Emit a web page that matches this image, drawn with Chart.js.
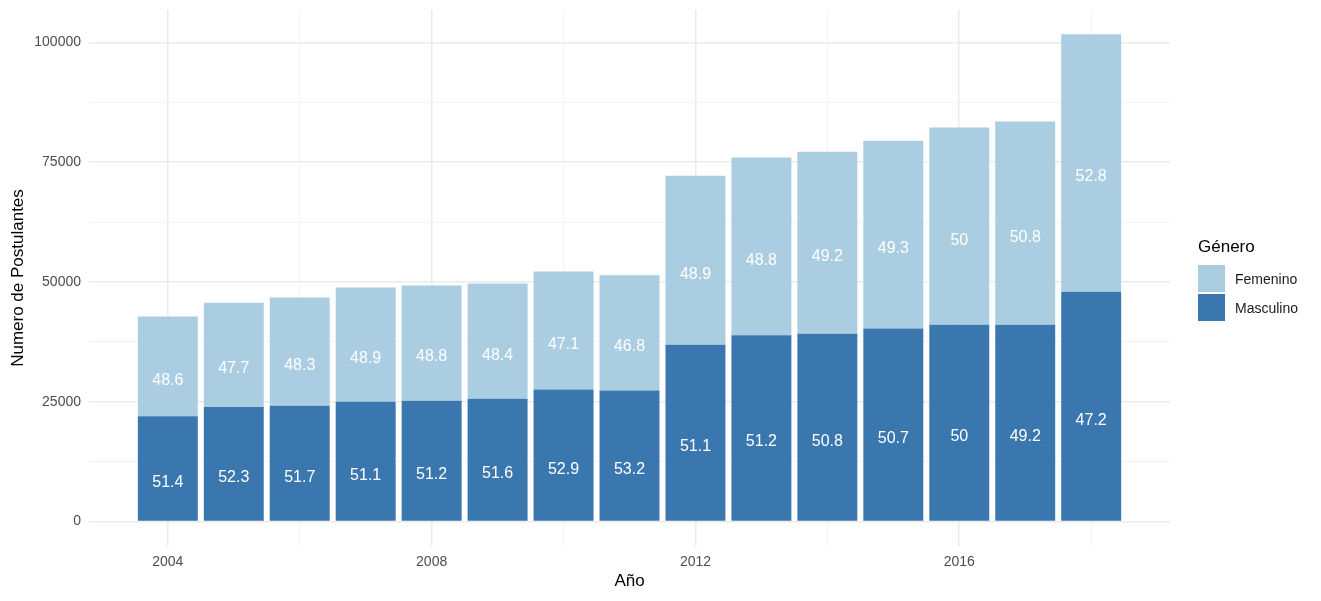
<!DOCTYPE html>
<html>
<head>
<meta charset="utf-8">
<script src="https://cdn.jsdelivr.net/npm/chart.js@4.4.1/dist/chart.umd.min.js"></script>
<style>
  body { margin: 0; background: #fff; font-family: "Liberation Sans", Arial, sans-serif; }
  #wrap { position: relative; width: 1321px; height: 601px; }
  #leyenda { position: absolute; left: 1198px; top: 234px; }
  #leyenda .titulo { font-size: 17px; color: #000; height: 26px; line-height: 26px; margin-bottom: 4px; }
  #leyenda .fila { display: flex; align-items: center; height: 29px; }
  #leyenda .caja { width: 27px; height: 27px; margin-right: 10px; }
  #leyenda .txt { font-size: 14px; color: #1a1a1a; }
</style>
</head>
<body>
<div id="wrap">
  <canvas id="grafico" width="1321" height="601"></canvas>
  <div id="leyenda"></div>
</div>
<script>
// datos
const anios = [2004, 2005, 2006, 2007, 2008, 2009, 2010, 2011, 2012, 2013, 2014, 2015, 2016, 2017, 2018];
const masculino = [22000, 23900, 24200, 25000, 25250, 25650, 27600, 27350, 36900, 38900, 39200, 40300, 41100, 41100, 48000];
const femenino = [20800, 21800, 22600, 23850, 24050, 24050, 24600, 24050, 35300, 37100, 38000, 39200, 41150, 42400, 53700];
const pctMasculino = ['51.4', '52.3', '51.7', '51.1', '51.2', '51.6', '52.9', '53.2', '51.1', '51.2', '50.8', '50.7', '50', '49.2', '47.2'];
const pctFemenino = ['48.6', '47.7', '48.3', '48.9', '48.8', '48.4', '47.1', '46.8', '48.9', '48.8', '49.2', '49.3', '50', '50.8', '52.8'];
const ticksX = [2004, 2006, 2008, 2010, 2012, 2014, 2016, 2018];
const ticksY = [0, 12500, 25000, 37500, 50000, 62500, 75000, 87500, 100000];

const colorMasc = '#3a77af';
const colorFem = '#abcde1';
const fuente = '"Liberation Sans", Arial, sans-serif';

// etiquetas de porcentaje dentro de las barras
const etiquetas = {
    id: 'etiquetas',
    afterDatasetsDraw(chart) {
        const ctx = chart.ctx;
        const textos = [pctMasculino, pctFemenino];
        ctx.save();
        ctx.font = '16px ' + fuente;
        ctx.fillStyle = '#ffffff';
        ctx.textAlign = 'center';
        ctx.textBaseline = 'middle';
        chart.data.datasets.forEach((ds, d) => {
            chart.getDatasetMeta(d).data.forEach((barra, i) => {
                let medio = (barra.y + barra.base) / 2 + 14;
                ctx.fillText(textos[d][i], barra.x, medio);
            });
        });
        ctx.restore();
    }
};

const esMayorX = v => (v - 2004) % 4 === 0;
const esMayorY = v => v % 25000 === 0;

new Chart(document.getElementById('grafico'), {
    type: 'bar',
    data: {
        labels: anios,
        datasets: [
            { label: 'Masculino', data: masculino, backgroundColor: colorMasc },
            { label: 'Femenino', data: femenino, backgroundColor: colorFem }
        ]
    },
    options: {
        responsive: false,
        animation: false,
        categoryPercentage: 1,
        barPercentage: 0.909,
        layout: { padding: { left: 0, top: 10, right: 151, bottom: 0 } },
        plugins: { legend: { display: false }, tooltip: { enabled: false } },
        scales: {
            x: {
                type: 'linear',
                stacked: true,
                offset: false,
                min: 2002.805,
                max: 2019.195,
                afterBuildTicks: s => { s.ticks = ticksX.map(v => ({ value: v })); },
                afterFit: s => { s.height = 55; s.paddingLeft = 0; s.paddingRight = 0; },
                border: { display: false },
                grid: {
                    offset: false,
                    drawTicks: false,
                    color: c => esMayorX(c.tick.value) ? '#ebebeb' : '#f3f3f3',
                    lineWidth: c => esMayorX(c.tick.value) ? 1.6 : 1
                },
                ticks: {
                    autoSkip: false,
                    maxRotation: 0,
                    padding: 8,
                    color: '#4d4d4d',
                    font: { family: fuente, size: 14 },
                    callback: v => esMayorX(v) ? String(v) : ''
                },
                title: {
                    display: true,
                    text: 'Año',
                    color: '#000',
                    font: { family: fuente, size: 17 },
                    padding: { top: 0, bottom: 9 }
                }
            },
            y: {
                stacked: true,
                min: -5085,
                max: 106785,
                afterBuildTicks: s => { s.ticks = ticksY.map(v => ({ value: v })); },
                afterFit: s => { s.width = 89; s.paddingTop = 0; s.paddingBottom = 0; },
                border: { display: false },
                grid: {
                    drawTicks: false,
                    color: c => esMayorY(c.tick.value) ? '#ebebeb' : '#f3f3f3',
                    lineWidth: c => esMayorY(c.tick.value) ? 1.6 : 1
                },
                ticks: {
                    padding: 8,
                    color: '#4d4d4d',
                    font: { family: fuente, size: 14 },
                    callback: v => esMayorY(v) ? String(v) : ''
                },
                title: {
                    display: true,
                    text: 'Numero de Postulantes',
                    color: '#000',
                    font: { family: fuente, size: 17 },
                    padding: { top: 8, bottom: 0 }
                }
            }
        }
    },
    plugins: [etiquetas]
});

// leyenda a la derecha
const leyenda = document.getElementById('leyenda');
let html = '<div class="titulo">Género</div>';
[['Femenino', colorFem], ['Masculino', colorMasc]].forEach(([nombre, color]) => {
    html += '<div class="fila"><div class="caja" style="background:' + color + '"></div><div class="txt">' + nombre + '</div></div>';
});
leyenda.innerHTML = html;
</script>
</body>
</html>
